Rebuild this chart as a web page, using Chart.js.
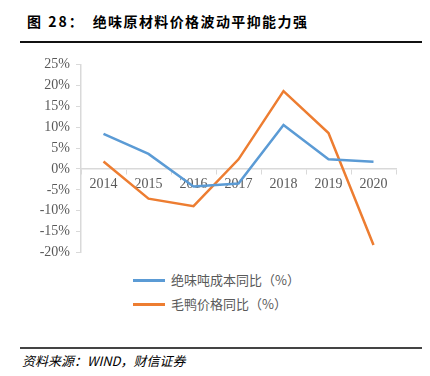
<!DOCTYPE html>
<html>
<head>
<meta charset="utf-8">
<script src="https://cdn.jsdelivr.net/npm/chart.js@4"></script>
<style>
  body { margin: 0; width: 430px; height: 376px; background: #fff; position: relative; overflow: hidden; }
  .title { position: absolute; left: 27px; top: 11px; font: bold 14px "Noto Sans CJK SC", sans-serif; color: #000; letter-spacing: 1.4px; white-space: nowrap; }
  .title .num { margin-right: 8px; letter-spacing: 2px; }
  .rule-top { position: absolute; left: 20px; top: 41px; width: 402px; height: 2px; background: #111; }
  .rule-bottom { position: absolute; left: 20px; top: 347px; width: 402px; height: 2px; background: #444; }
  .source { position: absolute; left: 22px; top: 351px; font: italic 13px "Noto Sans CJK SC", "Liberation Serif", serif; color: #000; }
  .wrap { position: absolute; left: 0; top: 50px; width: 430px; height: 217px; }
  .legend { position: absolute; left: 133px; top: 268px; font: 13px "Noto Sans CJK SC", sans-serif; color: #595959; }
  .legend div { height: 24px; line-height: 20px; display: flex; align-items: center; }
  .legend span.sw { display: inline-block; width: 32px; height: 3px; margin-right: 6px; }
</style>
</head>
<body>
<div class="title"><span class="num">图 28：</span>绝味原材料价格波动平抑能力强</div>
<div class="rule-top"></div>
<div class="wrap"><canvas id="trendChart"></canvas></div>
<div class="legend" id="legend"></div>
<div class="rule-bottom"></div>
<div class="source">资料来源：WIND，财信证券</div>
<script>
// Categories and series
const years = ["2014", "2015", "2016", "2017", "2018", "2019", "2020"];
const costYoY = [8.4, 3.6, -4.2, -3.5, 10.5, 2.3, 1.7];
const duckPriceYoY = [1.8, -7.1, -8.9, 2.3, 18.6, 8.6, -18.2];
const seriesNames = ["绝味吨成本同比（%）", "毛鸭价格同比（%）"];
const seriesColors = ["#5B9BD5", "#ED7D31"];

const ctx = document.getElementById("trendChart").getContext("2d");

const chart = new Chart(ctx, {
  type: "line",
  data: {
    labels: years,
    datasets: [
      { label: seriesNames[0], data: costYoY, borderColor: seriesColors[0], borderWidth: 2.5, pointRadius: 0, tension: 0 },
      { label: seriesNames[1], data: duckPriceYoY, borderColor: seriesColors[1], borderWidth: 2.5, pointRadius: 0, tension: 0 },
    ],
  },
  options: {
    responsive: true,
    maintainAspectRatio: false,
    animation: false,
    layout: { padding: { top: 8, bottom: 3, right: 34 } },
    scales: {
      x: {
        position: { y: 0 },
        offset: true,
        grid: { offset: true, drawOnChartArea: false, color: "#d9d9d9", tickLength: 5 },
        border: { color: "#d9d9d9", width: 1.5 },
        ticks: { color: "#595959", font: { family: "Liberation Serif", size: 14 }, padding: 2, maxRotation: 0 },
      },
      y: {
        min: -20,
        max: 25,
        grid: { drawOnChartArea: false, color: "#d9d9d9", tickLength: 5 },
        border: { color: "#d9d9d9", width: 1.5 },
        ticks: {
          stepSize: 5,
          color: "#595959",
          font: { family: "Liberation Serif", size: 14 },
          padding: 6,
          callback: (value) => `${value}%`,
        },
        afterFit: (scale) => { scale.width = 81; },
      },
    },
    plugins: {
      legend: { display: false },
      tooltip: { enabled: false },
    },
  },
});

// Vertical legend below the chart
const legend = document.getElementById("legend");
chart.data.datasets.forEach((ds) => {
  const row = document.createElement("div");
  row.innerHTML = `<span class="sw" style="background:${ds.borderColor}"></span>${ds.label}`;
  legend.appendChild(row);
});
</script>
</body>
</html>
